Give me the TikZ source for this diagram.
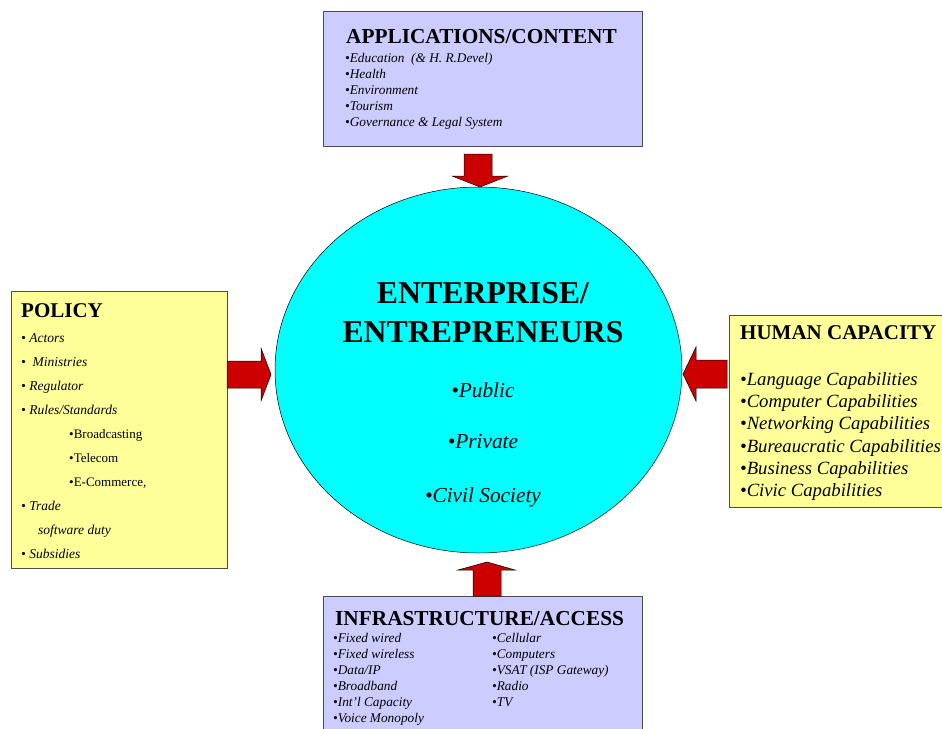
\documentclass[tikz,border=0pt]{standalone}
\usepackage{fontspec}
\setmainfont{Liberation Serif}
\usetikzlibrary{shapes.geometric}
\definecolor{lav}{HTML}{CCCCFF}
\definecolor{pale}{HTML}{FFFF99}
\definecolor{cyanfill}{HTML}{00FFFF}
\definecolor{arrred}{HTML}{CC0000}
\newcommand{\fs}[1]{\fontsize{#1}{#1}\selectfont}
\begin{document}
\begin{tikzpicture}[x=1pt,y=-1pt,
  box/.style={draw=black!70, line width=0.8pt, anchor=north west, inner sep=0pt},
  ttl/.style={anchor=base west, inner sep=0pt, font=\fs{21.3}\bfseries},
  itm/.style={anchor=base west, inner sep=0pt, font=\fs{13.3}\itshape},
  sub/.style={anchor=base west, inner sep=0pt, font=\fs{13}},
  hitm/.style={anchor=base west, inner sep=0pt, font=\fs{18.7}\itshape},
  citm/.style={anchor=base, inner sep=0pt, font=\fs{21.3}\itshape},
  blk/.style={fill=arrred, draw=black, line width=0.5pt, line join=miter}]
\useasboundingbox (0,0) rectangle (942,728);
\fill[white] (0,0) rectangle (942,728);

% boxes
\node[box, fill=lav, minimum width=319pt, minimum height=135pt] (app) at (323,11) {};
\node[box, fill=pale, minimum width=216pt, minimum height=277pt] (pol) at (11,291) {};
\node[box, fill=pale, minimum width=230pt, minimum height=192pt] (hum) at (729,315) {};
\node[box, fill=lav, minimum width=319pt, minimum height=150pt] (inf) at (323,596) {};

% circle
\node[draw=black, line width=0.5pt, fill=cyanfill, ellipse, minimum width=407pt, minimum height=366pt, inner sep=0pt] (ent) at (478.5,370) {};

% block arrows
\draw[blk] (464,154) -- (492,154) -- (492,176) -- (508,176) -- (480,187) -- (452,176) -- (464,176) -- cycle;
\draw[blk] (227,361) -- (261,361) -- (261,348) -- (271,374.5) -- (261,401) -- (261,388) -- (227,388) -- cycle;
\draw[blk] (727,360) -- (696,360) -- (696,347) -- (683,374) -- (696,401) -- (696,388) -- (727,388) -- cycle;
\draw[blk] (473,596) -- (473,570) -- (458,570) -- (487,562) -- (515,570) -- (501,570) -- (501,596) -- cycle;

% applications text
\node[ttl] (appt) at (346,43) {APPLICATIONS/CONTENT};
\node[itm] (a1) at (345,62) {•Education \ (\& H. R.Devel)};
\node[itm] (a2) at (345,78) {•Health};
\node[itm] (a3) at (345,94) {•Environment};
\node[itm] (a4) at (345,110) {•Tourism};
\node[itm] (a5) at (345,126) {•Governance \& Legal System};

% policy text
\node[ttl, font=\fs{21}\bfseries] (polt) at (21,317) {POLICY};
\node[itm, font=\fs{13.5}\itshape] (p1) at (21,342) {• Actors};
\node[itm, font=\fs{13.5}\itshape] (p2) at (21,366) {• \ Ministries};
\node[itm, font=\fs{13.5}\itshape] (p3) at (21,390) {• Regulator};
\node[itm, font=\fs{13.5}\itshape] (p4) at (21,414) {• Rules/Standards};
\node[sub] (p5) at (69,438) {•Broadcasting};
\node[sub] (p6) at (69,462) {•Telecom};
\node[sub] (p7) at (69,486) {•E-Commerce,};
\node[itm, font=\fs{13.5}\itshape] (p8) at (21,510) {• Trade};
\node[itm, font=\fs{13.5}\itshape] (p9) at (38,534) {software duty};
\node[itm, font=\fs{13.5}\itshape] (p10) at (21,558) {• Subsidies};

% human capacity text
\node[ttl, font=\fs{21}\bfseries] (humt) at (740,339) {HUMAN CAPACITY};
\node[hitm] (h1) at (740,385) {•Language Capabilities};
\node[hitm] (h2) at (740,407) {•Computer Capabilities};
\node[hitm] (h3) at (740,429) {•Networking Capabilities};
\node[hitm] (h4) at (740,452) {•Bureaucratic Capabilities};
\node[hitm] (h5) at (740,474) {•Business Capabilities};
\node[hitm] (h6) at (740,496) {•Civic Capabilities};

% infrastructure text
\node[ttl] (inft) at (335,625) {INFRASTRUCTURE/ACCESS};
\node[itm] (i1) at (333,642) {•Fixed wired};
\node[itm] (i2) at (333,658) {•Fixed wireless};
\node[itm] (i3) at (333,674) {•Data/IP};
\node[itm] (i4) at (333,690) {•Broadband};
\node[itm] (i5) at (333,706) {•Int'l Capacity};
\node[itm] (i6) at (333,722) {•Voice Monopoly};
\node[itm] (j1) at (492,642) {•Cellular};
\node[itm] (j2) at (492,658) {•Computers};
\node[itm] (j3) at (492,674) {•VSAT (ISP Gateway)};
\node[itm] (j4) at (492,690) {•Radio};
\node[itm] (j5) at (492,706) {•TV};

% circle text
\node[anchor=base, inner sep=0pt, font=\fs{31.8}\bfseries] (e1) at (483,303) {ENTERPRISE/};
\node[anchor=base, inner sep=0pt, font=\fs{31.8}\bfseries] (e2) at (483,342) {ENTREPRENEURS};
\node[citm] (c1) at (483,397) {•Public};
\node[citm] (c2) at (483,448) {•Private};
\node[citm] (c3) at (483,502) {•Civil Society};
\end{tikzpicture}
\end{document}
